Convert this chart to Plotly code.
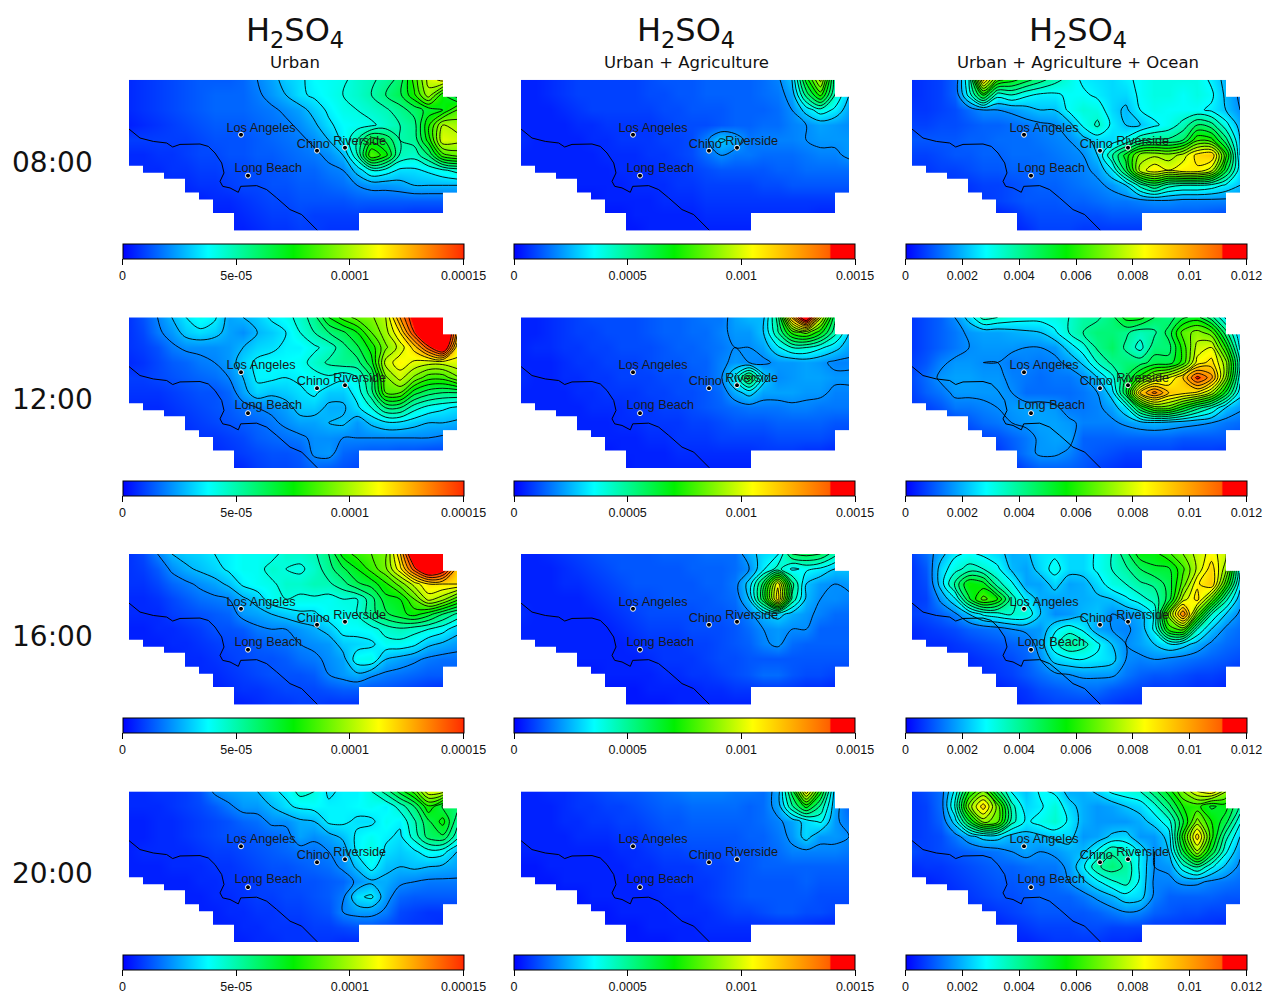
import plotly.graph_objects as go

FONT_T = "DejaVu Sans"
FONT_L = "Liberation Sans"
W, H = 1265, 995

times = ["08:00", "12:00", "16:00", "20:00"]
scenarios = ["Urban", "Urban + Agriculture", "Urban + Agriculture + Ocean"]
bar_max = [0.00015, 0.0015, 0.012]
tick_vals = [[0, 5e-05, 1e-04, 0.00015],
             [0, 0.0005, 0.001, 0.0015],
             [0, 0.002, 0.004, 0.006, 0.008, 0.01, 0.012]]
tick_text = [["0", "5e-05", "0.0001", "0.00015"],
             ["0", "0.0005", "0.001", "0.0015"],
             ["0", "0.002", "0.004", "0.006", "0.008", "0.01", "0.012"]]

# grid nodes, km east and north of the domain's south-west corner
grid_x = [0, 14.26, 28.52, 42.78, 57.04, 71.3, 85.57, 99.83, 114.09, 128.35, 142.61, 156.87,
          171.13, 185.39, 199.65, 213.91, 228.17, 242.43, 256.7, 270.96, 285.22, 299.48, 313.74, 328]
grid_y = [151, 135.9, 120.8, 105.7, 90.6, 75.5, 60.4, 45.3, 30.2, 15.1, 0]

# concentrations, percent of each column's colour-bar maximum (above 100 saturates to red)
z_u_08 = [[4,5,6,7,8,9,9,9,10,13,16,20,22,25,26,27,30,32,35,40,55,70,75,60],
[4,5,6,7,8,9,10,10,10,12,15,18,22,24,26,28,30,33,38,42,52,66,50,40],
[4,5,6,7,8,9,10,10,10,11,12,14,16,20,24,27,28,30,32,36,40,45,48,58],
[3,4,5,6,7,8,9,9,9,10,11,12,14,17,22,25,26,27,30,33,36,52,68,66],
[6,6,6,6,6,7,8,8,8,9,10,11,12,14,18,24,33,46,42,33,35,50,72,70],
[4,4,5,5,6,7,7,8,8,9,9,10,11,12,14,18,32,58,50,32,30,38,56,60],
[4,4,4,5,5,6,6,7,7,8,8,9,10,10,12,13,20,28,26,22,22,24,27,30],
[4,4,4,4,4,5,5,6,7,7,8,8,9,9,10,11,13,15,15,16,18,18,18,18],
[3,3,3,3,3,3,4,4,5,6,7,7,8,8,8,8,9,9,9,9,9,9,9,9],
[3,3,3,3,3,3,3,3,4,5,6,6,7,6,6,6,6,5,5,5,4,4,4,4],
[3,3,3,3,3,3,3,3,3,4,5,5,6,6,5,5,5,4,4,4,3,3,3,3]]
z_a_08 = [[3,3,4,5,6,6,6,6,6,7,8,8,8,9,9,9,9,10,12,18,45,65,30,20],
[3,3,4,5,6,6,6,6,6,7,7,8,8,9,9,9,9,10,11,15,35,50,28,18],
[3,3,3,4,5,6,6,6,6,6,7,7,8,8,8,9,9,9,10,13,20,26,22,15],
[3,3,3,3,4,4,5,5,5,5,6,7,7,7,8,9,9,10,10,12,13,15,14,13],
[4,3,3,3,3,4,4,5,5,5,6,6,7,12,19,16,11,12,12,12,13,14,14,14],
[3,3,3,3,3,3,4,4,4,5,5,6,7,10,13,11,11,10,10,10,11,12,12,14],
[3,3,3,3,3,3,3,4,4,4,5,5,6,7,8,8,8,8,9,9,10,10,10,10],
[3,3,3,3,3,3,3,3,4,4,4,5,5,6,6,6,6,7,7,8,8,8,8,8],
[2,2,2,2,2,2,3,3,3,3,4,4,4,5,5,5,5,5,5,5,5,5,5,5],
[2,2,2,2,2,2,2,2,3,3,3,3,3,4,4,4,4,4,4,4,4,3,3,3],
[2,2,2,2,2,2,2,2,2,3,3,3,3,3,3,3,3,3,3,3,3,3,3,3]]
z_o_08 = [[4,5,6,9,28,75,50,45,40,35,30,26,22,21,20,22,24,26,26,26,26,22,16,12],
[4,5,6,9,25,45,25,28,24,22,22,24,24,22,20,20,24,26,26,24,26,24,17,12],
[5,5,6,7,10,13,13,14,16,18,18,24,27,26,20,17,23,25,24,24,24,22,18,13],
[6,6,7,7,8,9,9,10,11,12,13,16,24,29,22,18,18,22,25,30,38,35,25,16],
[8,8,8,8,9,9,10,10,10,11,12,13,16,20,20,24,32,34,34,38,52,50,35,18],
[6,6,7,8,8,9,9,10,10,10,11,12,13,18,32,45,60,62,60,65,75,78,50,18],
[5,5,6,6,7,8,8,9,9,10,10,11,12,14,22,40,65,72,68,72,72,65,40,20],
[4,4,4,5,5,6,6,7,8,9,9,10,11,12,14,18,30,38,30,28,28,26,22,18],
[3,3,3,3,4,5,6,7,8,8,8,9,9,10,11,11,12,13,13,12,12,12,12,12],
[3,3,3,3,3,3,3,4,6,7,7,7,7,7,8,8,8,8,8,8,8,7,6,6],
[3,3,3,3,3,3,3,3,4,6,6,6,5,5,5,5,5,4,4,4,4,4,3,3]]
z_u_12 = [[5,8,13,18,23,26,24,16,18,20,24,26,30,36,48,55,60,62,68,88,104,122,125,70],
[5,7,12,15,20,22,20,16,14,18,20,23,28,33,38,42,48,58,66,78,98,118,120,85],
[5,6,8,12,14,14,14,15,18,21,22,24,24,27,30,36,42,50,62,70,80,96,110,75],
[4,5,7,9,10,12,13,15,21,24,25,25,26,30,34,36,36,46,70,76,72,70,70,72],
[6,6,7,8,9,10,11,13,18,24,24,23,24,26,27,24,28,38,62,70,62,55,55,62],
[5,5,5,6,7,8,8,10,16,21,19,20,22,24,20,20,25,36,58,58,45,40,38,38],
[4,4,4,5,6,7,8,9,11,13,14,16,20,20,17,17,22,28,38,38,30,26,24,22],
[4,4,4,4,5,6,7,8,9,10,12,14,16,16,18,19,15,19,22,22,20,18,18,17],
[3,3,3,4,4,5,5,6,7,9,10,11,12,14,14,13,13,13,13,13,13,13,12,11],
[3,3,3,3,3,3,4,5,6,7,8,8,9,14,15,10,9,8,8,7,7,6,6,5],
[3,3,3,3,3,3,3,3,4,6,7,7,8,10,9,8,7,6,5,5,4,3,3,3]]
z_a_12 = [[3,3,4,5,6,7,7,7,7,8,9,9,10,11,11,15,17,17,35,80,110,65,35,16],
[3,3,4,5,6,6,7,7,7,8,9,9,10,10,12,14,14,18,32,50,55,45,30,18],
[3,4,4,5,5,6,6,7,7,7,8,9,9,10,11,13,13,15,22,28,28,24,20,15],
[3,3,3,4,5,5,6,6,6,7,8,8,9,9,12,14,13,12,14,14,15,14,12,12],
[4,3,3,4,4,5,5,6,6,6,7,7,8,9,12,24,42,20,13,14,15,15,14,14],
[3,3,3,3,4,4,5,5,5,6,6,7,7,8,10,16,20,15,15,15,14,14,12,12],
[3,3,3,3,3,4,4,4,5,5,6,6,7,8,9,10,11,11,11,12,12,11,11,11],
[3,3,3,3,3,3,3,4,4,5,5,5,6,6,7,8,8,8,9,9,9,9,8,8],
[2,2,2,2,3,3,3,3,3,4,4,5,5,5,6,6,6,6,7,7,7,7,6,6],
[2,2,2,2,2,2,2,3,3,3,3,4,4,4,4,4,4,5,5,5,4,4,3,3],
[2,2,2,2,2,2,2,2,3,3,3,3,3,3,3,3,3,3,3,3,3,3,3,3]]
z_o_12 = [[5,7,9,13,20,30,28,26,25,25,26,28,32,32,36,45,45,38,35,42,45,35,22,12],
[5,7,9,11,14,15,15,16,17,18,22,28,33,36,36,34,30,32,40,55,60,55,35,18],
[5,7,9,11,13,14,14,14,13,13,14,20,26,34,38,32,26,36,36,50,65,68,48,22],
[6,8,12,14,14,13,13,11,12,11,12,14,19,28,34,36,36,40,40,50,70,75,60,28],
[7,10,14,15,15,14,14,12,11,10,11,11,13,18,26,38,50,62,68,78,95,85,58,25],
[6,9,11,14,14,14,14,13,10,10,10,10,11,13,20,42,78,90,78,75,72,62,42,20],
[5,6,8,11,11,12,13,14,15,15,14,11,11,12,15,22,42,55,55,45,35,28,18,14],
[4,5,5,6,8,10,11,13,14,15,15,14,12,12,12,14,16,17,16,15,14,13,11,10],
[3,3,4,5,5,6,7,9,11,14,15,15,9,9,9,9,9,9,9,8,8,8,8,7],
[3,3,3,3,3,3,5,8,11,14,14,12,9,8,7,6,6,6,6,5,5,5,4,4],
[3,3,3,3,3,3,3,4,7,9,9,9,8,6,5,4,4,4,4,3,3,3,3,3]]
z_u_16 = [[5,7,13,18,20,21,23,24,26,26,26,30,30,32,38,50,55,58,62,82,110,125,125,90],
[5,6,9,14,17,19,21,24,26,26,30,28,27,30,36,42,48,55,62,76,96,112,104,80],
[5,5,7,10,12,14,16,19,24,26,27,30,30,32,32,36,42,45,52,60,70,78,78,78],
[4,4,5,7,9,11,12,13,17,20,26,28,27,27,26,28,28,36,46,48,58,70,65,55],
[4,4,4,6,7,8,9,10,15,16,18,20,22,22,26,26,28,36,42,46,50,45,38,32],
[3,3,4,4,5,6,8,8,9,12,13,13,15,17,20,25,25,26,30,32,30,28,25,20],
[3,3,3,4,4,5,6,7,7,9,10,11,13,14,15,20,21,22,26,26,24,19,17,15],
[3,3,3,3,4,4,5,6,7,8,8,9,11,12,14,16,26,27,18,16,14,12,11,11],
[3,3,3,3,3,4,4,5,6,7,8,8,8,9,13,15,17,14,12,11,10,9,9,9],
[3,3,3,3,3,3,3,4,5,5,6,7,7,7,8,9,9,8,8,7,6,5,4,4],
[2,2,2,2,2,2,3,3,3,4,5,5,6,6,5,5,5,4,3,3,3,3,3,3]]
z_a_16 = [[3,3,4,5,6,7,8,8,8,8,9,9,9,10,10,10,16,20,22,38,40,38,30,20],
[3,3,3,4,5,6,7,8,8,8,8,8,9,9,9,10,13,22,30,22,24,22,18,18],
[3,3,3,4,4,5,6,7,8,8,8,8,8,9,9,11,20,40,72,35,18,14,13,14],
[3,3,3,3,3,4,5,6,7,7,8,8,8,8,9,10,18,42,76,32,17,13,13,12],
[4,3,3,3,3,3,4,5,6,7,7,7,7,8,8,9,12,17,20,16,14,12,10,10],
[3,3,3,3,3,3,3,4,5,6,6,6,7,7,7,8,10,13,14,13,13,9,9,9],
[3,3,3,3,3,3,3,3,4,5,5,5,6,6,7,8,9,12,14,10,9,9,9,9],
[2,3,3,3,3,3,3,3,3,4,5,5,5,6,7,7,8,8,8,8,8,8,8,8],
[2,2,2,2,2,2,3,3,3,3,4,4,5,5,6,7,8,10,10,8,7,7,6,6],
[2,2,2,2,2,2,2,2,2,3,3,3,3,4,4,5,5,5,5,5,4,4,3,3],
[2,2,2,2,2,2,2,2,2,2,2,3,3,3,3,3,3,3,3,3,3,3,3,3]]
z_o_16 = [[6,10,16,22,24,22,20,16,17,21,22,20,20,24,28,36,46,46,52,58,65,70,65,18],
[5,8,20,26,30,28,24,17,15,20,25,20,20,24,28,32,38,42,42,52,64,76,60,24],
[5,7,20,34,48,45,30,24,15,15,20,15,16,20,26,28,32,34,40,55,72,78,50,20],
[5,6,14,22,42,55,48,30,22,16,15,16,16,17,18,22,26,30,40,65,75,55,30,15],
[6,7,9,12,18,24,26,28,27,18,13,14,17,18,13,14,16,24,60,88,55,28,18,12],
[4,5,6,7,9,10,11,13,14,14,22,26,22,15,13,12,15,24,50,55,28,18,12,10],
[3,4,4,5,6,7,8,9,10,15,26,33,30,24,18,13,15,18,22,20,16,12,10,9],
[3,3,3,4,4,5,6,7,9,13,20,22,23,22,20,13,12,13,12,11,10,9,8,7],
[3,3,3,3,4,4,5,6,8,10,12,13,14,14,14,11,9,8,8,7,6,6,5,4],
[3,3,3,3,3,3,3,4,5,7,8,9,10,10,8,7,6,5,5,5,4,4,3,3],
[3,3,3,3,3,3,3,3,4,5,6,6,6,6,5,4,4,3,3,3,3,3,3,3]]
z_u_20 = [[4,4,5,5,6,8,14,16,17,18,22,24,30,28,22,24,24,28,35,45,55,72,70,40],
[4,4,4,5,6,7,9,12,15,15,18,22,24,25,24,24,25,26,24,30,38,52,42,40],
[3,3,4,4,5,6,7,8,10,11,14,14,17,18,24,24,22,22,26,24,32,42,50,35],
[3,3,4,4,5,6,7,8,8,9,10,11,16,14,16,19,24,26,24,22,30,40,42,30],
[3,4,4,4,4,5,6,6,7,8,9,10,11,11,13,15,24,28,22,20,22,26,25,18],
[3,3,3,4,4,4,5,5,6,7,8,8,9,10,11,14,19,25,19,18,19,18,17,16],
[3,3,3,3,3,4,4,5,5,6,7,7,8,8,9,10,14,17,17,14,13,12,12,12],
[3,3,3,3,3,3,4,4,5,6,6,7,7,8,9,12,22,24,15,10,9,9,9,9],
[3,3,3,3,3,3,3,4,4,5,5,6,6,7,8,13,15,15,12,7,6,5,5,5],
[2,2,2,2,3,3,3,3,4,4,5,5,5,6,6,7,8,8,7,6,5,5,4,4],
[2,2,2,2,2,3,3,3,3,4,4,5,5,5,5,4,4,4,3,3,3,3,3,3]]
z_a_20 = [[3,3,4,4,5,6,7,8,8,9,10,11,12,12,12,11,11,10,15,40,72,45,16,10],
[3,3,3,4,5,5,6,6,7,8,9,9,10,10,10,10,9,10,15,32,45,32,15,9],
[3,3,3,4,4,5,5,6,6,7,8,8,9,9,9,9,9,10,12,15,20,24,14,11],
[3,3,3,3,4,4,4,5,5,6,7,8,8,8,8,8,9,9,11,14,20,14,14,13],
[3,3,3,3,3,3,3,4,4,5,6,6,7,7,7,8,8,9,10,12,12,12,12,11],
[2,2,3,3,3,3,3,3,4,4,5,5,5,6,6,7,8,9,9,9,9,9,9,9],
[2,2,2,3,3,3,3,3,3,4,4,5,5,5,6,7,8,8,8,8,9,8,8,8],
[2,2,2,2,2,3,3,3,3,3,4,4,4,5,6,7,8,8,8,8,8,7,7,7],
[2,2,2,2,2,2,2,3,3,3,3,4,4,4,5,6,6,7,8,8,7,7,6,6],
[2,2,2,2,2,2,2,2,2,3,3,3,3,4,4,4,4,4,4,4,4,3,3,3],
[2,2,2,2,2,2,2,2,2,2,2,3,3,3,3,3,3,3,3,3,3,3,3,3]]
z_o_20 = [[5,7,10,24,48,58,36,22,18,24,22,16,16,19,24,26,28,36,45,58,68,72,60,20],
[5,6,10,28,60,76,56,30,20,22,27,20,16,14,15,18,20,26,36,48,50,42,45,32],
[5,6,9,20,42,60,55,30,22,25,28,22,16,14,14,14,16,20,26,42,60,48,40,24],
[5,6,7,11,16,20,20,16,16,17,19,20,14,15,19,20,14,14,20,50,76,50,30,18],
[7,6,7,8,9,10,11,13,15,13,14,16,17,24,32,28,22,13,18,42,62,42,24,14],
[4,5,5,6,7,8,9,9,10,11,11,14,22,32,36,32,22,13,14,26,34,24,17,12],
[3,3,4,5,6,7,8,8,9,9,10,13,17,22,27,30,22,12,12,14,14,12,11,10],
[3,3,3,4,5,6,7,7,8,9,9,9,11,14,17,21,20,12,9,9,9,9,8,8],
[3,3,3,3,4,4,5,6,7,8,8,8,8,9,11,13,12,9,8,7,7,6,6,5],
[2,3,3,3,3,3,3,4,5,6,6,6,7,7,6,6,6,5,5,5,4,4,3,3],
[2,2,2,3,3,3,3,3,3,4,5,5,5,5,4,4,3,3,3,3,3,3,3,3]]

panels = [[z_u_08, z_a_08, z_o_08], [z_u_12, z_a_12, z_o_12],
          [z_u_16, z_a_16, z_o_16], [z_u_20, z_a_20, z_o_20]]

coast_x = [0, 11, 24.3, 37.7, 43.7, 51, 71, 79.3, 86, 92.7, 95, 91, 93.7, 101, 109.3, 111.7,
           127.7, 137.7, 147.7, 161, 172.7, 188.3]
coast_y = [101.7, 92.7, 89.3, 87.7, 83.7, 86.3, 86.7, 84.3, 77.7, 67.7, 57.7, 49.3, 44.3, 42.7,
           38.3, 44.3, 45, 41, 32.7, 21, 16, 0.3]

city_names = ["Los Angeles", "Chino", "Riverside", "Long Beach"]
city_x = [112, 188, 216, 119]
city_y = [96, 80, 83, 55]
label_x = [132, 184.3, 230.7, 139.3]
label_y = [102.3, 86.3, 89.3, 62.3]

# blocks outside the model domain: y from, y to, x from, x to (overlapping, so no seams show)
outside = [(-3, 65, -3, 14), (-3, 58, -3, 35), (-3, 52, -3, 56), (-3, 38, -3, 70), (-3, 31, -3, 84),
           (-3, 17.5, -3, 105), (134, 154, 314, 331), (-3, 38, 314, 331), (-3, 17.5, 230, 331)]

# style
scale_u = [[0, "#0000ff"], [0.25, "#00ffff"], [0.5, "#00f000"], [0.75, "#ffff00"],
           [0.995, "#ff3000"], [1, "#ff0000"]]
scale_o = [[0, "#0000ff"], [0.235, "#00ffff"], [0.47, "#00f000"], [0.7, "#ffff00"],
           [0.925, "#ff6000"], [0.93, "#ff0000"], [1, "#ff0000"]]
col_left = [129, 521, 912]
bar_left = [122.5, 514, 905.5]
row_top = [80, 318, 555, 793]
col_center = [295, 686, 1078]
row_center = [163, 400, 638, 875]
PW, PH = 328, 151

fig = go.Figure()
layout = dict(width=W, height=H, margin=dict(l=0, r=0, t=0, b=0), showlegend=False,
              paper_bgcolor="white", plot_bgcolor="white", shapes=[], annotations=[])
n = 0
for r in range(4):
    for c in range(3):
        n += 1
        xa, ya = f"x{n}", f"y{n}"
        k = bar_max[c] / 100
        z = [[v * k for v in row] for row in panels[r][c]]
        L, T = col_left[c], row_top[r]
        layout[f"xaxis{n}"] = dict(domain=[L / W, (L + PW) / W], range=[0, PW], visible=False, anchor=ya, fixedrange=True)
        layout[f"yaxis{n}"] = dict(domain=[1 - (T + PH) / H, 1 - T / H], range=[0, PH], visible=False, anchor=xa, fixedrange=True)
        fig.add_trace(go.Heatmap(
            x=grid_x, y=grid_y, z=z, xaxis=xa, yaxis=ya, zmin=0, zmax=bar_max[c], zsmooth="best",
            colorscale=scale_u if c == 0 else scale_o, hoverinfo="skip",
            colorbar=dict(orientation="h", x=bar_left[c] / W, xanchor="left", y=1 - (T + 164) / H, yanchor="top",
                          lenmode="fraction", len=341 / W, thickness=15, thicknessmode="pixels", xpad=0, ypad=0,
                          outlinecolor="black", outlinewidth=1, ticks="outside", ticklen=6, tickcolor="black",
                          tickvals=tick_vals[c], ticktext=tick_text[c],
                          tickfont=dict(family=FONT_L, size=12.5, color="#111"))))
        fig.add_trace(go.Contour(
            x=grid_x, y=grid_y, z=z, xaxis=xa, yaxis=ya, showscale=False, autocontour=False,
            contours=dict(coloring="none", start=13 * k, end=100 * k, size=5 * k),
            line=dict(color="black", width=0.9, smoothing=1), hoverinfo="skip"))
        fig.add_trace(go.Scatter(x=coast_x, y=coast_y, xaxis=xa, yaxis=ya, mode="lines",
                                 line=dict(color="black", width=1), hoverinfo="skip"))
        fig.add_trace(go.Scatter(x=city_x, y=city_y, xaxis=xa, yaxis=ya, mode="markers",
                                 marker=dict(color="black", size=5, line=dict(color="white", width=1)), hoverinfo="skip"))
        fig.add_trace(go.Scatter(x=label_x, y=label_y, xaxis=xa, yaxis=ya, mode="text", text=city_names,
                                 textposition="middle center", textfont=dict(family=FONT_L, size=12.7, color="#1a1a1a"),
                                 hoverinfo="skip"))
        for y0, y1, x0, x1 in outside:
            layout["shapes"].append(dict(type="rect", xref="paper", yref="paper",
                                         x0=(L + x0) / W, x1=(L + x1) / W,
                                         y0=1 - (T + PH - y0) / H, y1=1 - (T + PH - y1) / H,
                                         fillcolor="white", line=dict(width=0), layer="above"))

for c in range(3):
    layout["annotations"].append(dict(text="H<sub>2</sub>SO<sub>4</sub>", x=col_center[c] / W, y=1 - 32 / H,
                                      xanchor="center", yanchor="middle",
                                      xref="paper", yref="paper", showarrow=False,
                                      font=dict(family=FONT_T, size=32, color="#111")))
    layout["annotations"].append(dict(text=scenarios[c], x=col_center[c] / W, y=1 - 63 / H,
                                      xanchor="center", yanchor="middle",
                                      xref="paper", yref="paper", showarrow=False,
                                      font=dict(family=FONT_T, size=16.5, color="#111")))
for r in range(4):
    layout["annotations"].append(dict(text=times[r], x=52 / W, y=1 - row_center[r] / H,
                                      xanchor="center", yanchor="middle",
                                      xref="paper", yref="paper", showarrow=False,
                                      font=dict(family=FONT_T, size=28, color="#111")))
fig.update_layout(**layout)
fig.write_html("out.html", post_script="document.body.style.margin='0';",
               config=dict(displayModeBar=False))
